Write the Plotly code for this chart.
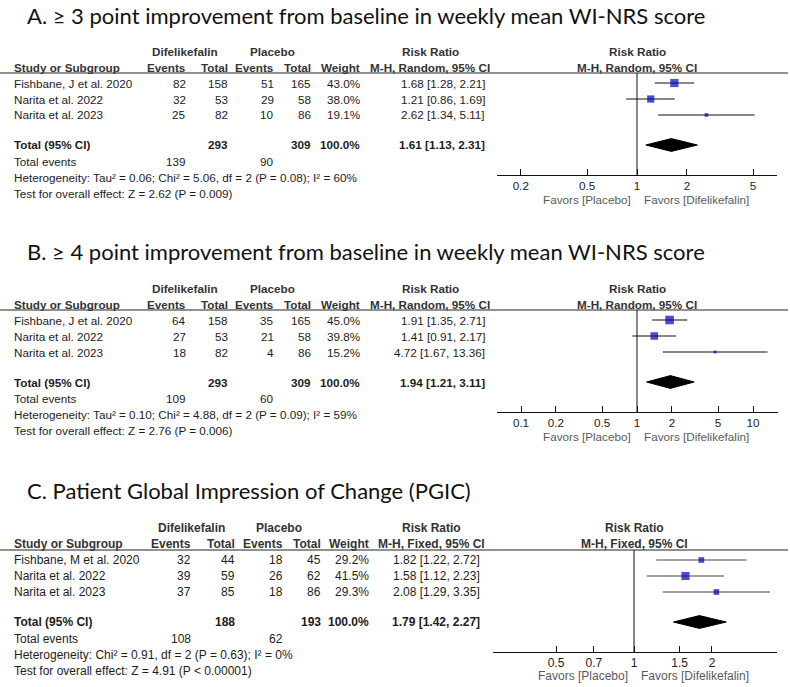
import math
import plotly.graph_objects as go

W, H = 790, 687

# ---------------- DATA ----------------
A_studies = ["Fishbane, J et al. 2020", "Narita et al. 2022", "Narita et al. 2023"]
A_dif_events = [82, 32, 25]
A_dif_total = [158, 53, 82]
A_pla_events = [51, 29, 10]
A_pla_total = [165, 58, 86]
A_weight = [43.0, 38.0, 19.1]
A_rr = [1.68, 1.21, 2.62]
A_lo = [1.28, 0.86, 1.34]
A_hi = [2.21, 1.69, 5.11]
A_tot = [1.61, 1.13, 2.31]
A_tot_n = [293, 309]
A_tot_events = [139, 90]
A_tot_weight = 100.0
A_het = "Heterogeneity: Tau² = 0.06; Chi² = 5.06, df = 2 (P = 0.08); I² = 60%"
A_test = "Test for overall effect: Z = 2.62 (P = 0.009)"
A_ticks = [0.2, 0.5, 1, 2, 5]
A_ticklabels = ["0.2", "0.5", "1", "2", "5"]

B_studies = ["Fishbane, J et al. 2020", "Narita et al. 2022", "Narita et al. 2023"]
B_dif_events = [64, 27, 18]
B_dif_total = [158, 53, 82]
B_pla_events = [35, 21, 4]
B_pla_total = [165, 58, 86]
B_weight = [45.0, 39.8, 15.2]
B_rr = [1.91, 1.41, 4.72]
B_lo = [1.35, 0.91, 1.67]
B_hi = [2.71, 2.17, 13.36]
B_tot = [1.94, 1.21, 3.11]
B_tot_n = [293, 309]
B_tot_events = [109, 60]
B_tot_weight = 100.0
B_het = "Heterogeneity: Tau² = 0.10; Chi² = 4.88, df = 2 (P = 0.09); I² = 59%"
B_test = "Test for overall effect: Z = 2.76 (P = 0.006)"
B_ticks = [0.1, 0.2, 0.5, 1, 2, 5, 10]
B_ticklabels = ["0.1", "0.2", "0.5", "1", "2", "5", "10"]

C_studies = ["Fishbane, M et al. 2020", "Narita et al. 2022", "Narita et al. 2023"]
C_dif_events = [32, 39, 37]
C_dif_total = [44, 59, 85]
C_pla_events = [18, 26, 18]
C_pla_total = [45, 62, 86]
C_weight = [29.2, 41.5, 29.3]
C_rr = [1.82, 1.58, 2.08]
C_lo = [1.22, 1.12, 1.29]
C_hi = [2.72, 2.23, 3.35]
C_tot = [1.79, 1.42, 2.27]
C_tot_n = [188, 193]
C_tot_events = [108, 62]
C_tot_weight = 100.0
C_het = "Heterogeneity: Chi² = 0.91, df = 2 (P = 0.63); I² = 0%"
C_test = "Test for overall effect: Z = 4.91 (P < 0.00001)"
C_ticks = [0.5, 0.7, 1, 1.5, 2]
C_ticklabels = ["0.5", "0.7", "1", "1.5", "2"]

TITLES = [
    "A. ≥ 3 point improvement from baseline in weekly mean WI-NRS score",
    "B. ≥ 4 point improvement from baseline in weekly mean WI-NRS score",
    "C. Patient Global Impression of Change (PGIC)",
]
METHODS = ["M-H, Random, 95% CI", "M-H, Random, 95% CI", "M-H, Fixed, 95% CI"]
GROUP1, GROUP2 = "Difelikefalin", "Placebo"
FAVORS = ["Favors [Placebo]", "Favors [Difelikefalin]"]

# ---------------- LAYOUT (pixels) ----------------
STUDY_ROWS = [1, 2, 3]
TOTAL_ROW = 4.875
TOP_ROW = 0.375   # header rule
AXIS_ROW = 6.75   # x axis line
ROW_PX = 16

panels = [
    dict(d=(A_studies, A_dif_events, A_dif_total, A_pla_events, A_pla_total, A_weight,
            A_rr, A_lo, A_hi, A_tot, A_tot_n, A_tot_events, A_tot_weight, A_het, A_test,
            A_ticks, A_ticklabels),
         title_y=15, r0=67, cols=(188, 230, 276, 313, 362, 487), rrh=430, g1c=185, g2c=272,
         fx=(497, 777), one=637, dec=166, fs=11.7, ci="#111"),
    dict(d=(B_studies, B_dif_events, B_dif_total, B_pla_events, B_pla_total, B_weight,
            B_rr, B_lo, B_hi, B_tot, B_tot_n, B_tot_events, B_tot_weight, B_het, B_test,
            B_ticks, B_ticklabels),
         title_y=252, r0=304, cols=(188, 230, 276, 313, 362, 487), rrh=430, g1c=185, g2c=272,
         fx=(497, 778), one=637, dec=116, fs=11.7, ci="#111"),
    dict(d=(C_studies, C_dif_events, C_dif_total, C_pla_events, C_pla_total, C_weight,
            C_rr, C_lo, C_hi, C_tot, C_tot_n, C_tot_events, C_tot_weight, C_het, C_test,
            C_ticks, C_ticklabels),
         title_y=490, r0=544, cols=(193, 237, 285, 323, 371, 482), rrh=431, g1c=191, g2c=279,
         fx=(493, 777), one=634, dec=259, fs=12.0, ci="#444"),
]

TXT = "#1c1c1c"
HDR = "#333333"
FONT = "Liberation Sans, Arial, sans-serif"


def px(x):
    return x / W


def py(y):
    return 1 - y / H


fig = go.Figure()
annotations = []
shapes = []


def text(x, y, s, anchor="left", bold=False, size=11.7, color=TXT, xref="paper"):
    annotations.append(dict(
        x=x if xref != "paper" else px(x), y=py(y), xref=xref, yref="paper",
        text=f"<b>{s}</b>" if bold else s, showarrow=False,
        xanchor=anchor, yanchor="middle",
        font=dict(family=FONT, size=size, color=color)))


for i, p in enumerate(panels):
    (studies, de, dt, pe, pt, wt, rr, lo, hi, tot, tot_n, tot_ev, tot_w, het, test,
     ticks, ticklabels) = p["d"]
    r0 = p["r0"]
    fs = p["fs"]
    rowpx = lambda r: r0 + r * ROW_PX
    c_ev1, c_t1, c_ev2, c_t2, c_w, c_rr = p["cols"]
    xa = "x" if i == 0 else f"x{i+1}"
    ya = "y" if i == 0 else f"y{i+1}"

    # title
    annotations.append(dict(x=px(25), y=py(p["title_y"]), xref="paper", yref="paper",
                            text=TITLES[i], showarrow=False, xanchor="left", yanchor="middle",
                            font=dict(family="Lato, sans-serif", size=22, color="#111")))

    # headers
    h1, h2 = rowpx(TOP_ROW) - 22, rowpx(TOP_ROW) - 6
    text(p["g1c"], h1, GROUP1, "center", True, fs, HDR)
    text(p["g2c"], h1, GROUP2, "center", True, fs, HDR)
    text(p["rrh"], h1, "Risk Ratio", "center", True, fs, HDR)
    text(12, h2, "Study or Subgroup", "left", True, fs, HDR)
    text(c_ev1, h2, "Events", "right", True, fs, HDR)
    text(c_t1, h2, "Total", "right", True, fs, HDR)
    text(c_ev2, h2, "Events", "right", True, fs, HDR)
    text(c_t2, h2, "Total", "right", True, fs, HDR)
    text(c_w, h2, "Weight", "right", True, fs, HDR)
    text(p["rrh"], h2, METHODS[i], "center", True, fs, HDR)
    text(0, h1, "Risk Ratio", "center", True, fs, HDR, xref=xa)
    text(0, h2, METHODS[i], "center", True, fs, HDR, xref=xa)

    shapes.append(dict(type="line", xref="paper", yref="paper", x0=px(0), x1=px(788),
                       y0=py(rowpx(TOP_ROW)), y1=py(rowpx(TOP_ROW)),
                       line=dict(color="#222", width=1)))

    # study rows
    for r, s, a, b, c, d, w, e, l, h in zip(STUDY_ROWS, studies, de, dt, pe, pt, wt, rr, lo, hi):
        y = rowpx(r)
        text(12, y, s, "left", False, fs)
        text(c_ev1, y, str(a), "right", False, fs)
        text(c_t1, y, str(b), "right", False, fs)
        text(c_ev2, y, str(c), "right", False, fs)
        text(c_t2, y, str(d), "right", False, fs)
        text(c_w, y, f"{w:.1f}%", "right", False, fs)
        text(c_rr, y, f"{e:.2f} [{l:.2f}, {h:.2f}]", "right", False, fs)

    # total rows
    yt = rowpx(TOTAL_ROW)
    text(12, yt, "Total (95% CI)", "left", True, fs)
    text(c_t1, yt, str(tot_n[0]), "right", True, fs)
    text(c_t2, yt, str(tot_n[1]), "right", True, fs)
    text(c_w, yt, f"{tot_w:.1f}%", "right", True, fs)
    text(c_rr, yt, f"{tot[0]:.2f} [{tot[1]:.2f}, {tot[2]:.2f}]", "right", True, fs)
    ye = yt + 16.5
    text(12, ye, "Total events", "left", False, fs)
    text(c_ev1, ye, str(tot_ev[0]), "right", False, fs)
    text(c_ev2, ye, str(tot_ev[1]), "right", False, fs)
    text(12, ye + 16, het, "left", False, fs)
    text(12, ye + 32, test, "left", False, fs)

    # favors labels
    yf = rowpx(AXIS_ROW) + 24
    text(0, yf, FAVORS[0], "right", False, fs, "#5a5a5a", xref=xa)
    annotations[-1]["xshift"] = -4
    text(0, yf, FAVORS[1], "left", False, fs, "#5a5a5a", xref=xa)
    annotations[-1]["xshift"] = 5

    # forest: reference line at RR = 1
    fig.add_trace(go.Scatter(x=[1, 1], y=[TOP_ROW, AXIS_ROW], mode="lines",
                             line=dict(color="#111", width=1), xaxis=xa, yaxis=ya,
                             hoverinfo="skip", showlegend=False, cliponaxis=False))
    # CI lines
    cx, cy = [], []
    for r, l, h in zip(STUDY_ROWS, lo, hi):
        cx += [l, h, None]
        cy += [r, r, None]
    fig.add_trace(go.Scatter(x=cx, y=cy, mode="lines", line=dict(color=p["ci"], width=1.2),
                             xaxis=xa, yaxis=ya, showlegend=False, cliponaxis=False))
    # squares
    fig.add_trace(go.Scatter(x=rr, y=STUDY_ROWS, mode="markers",
                             marker=dict(symbol="square", color="#0000c0",
                                         size=[0.19 * w * (fs / 11.7) for w in wt],
                                         line=dict(width=0)),
                             xaxis=xa, yaxis=ya, showlegend=False, cliponaxis=False))
    # diamond
    hh = 0.4
    fig.add_trace(go.Scatter(x=[tot[1], tot[0], tot[2], tot[0], tot[1]],
                             y=[TOTAL_ROW, TOTAL_ROW - hh, TOTAL_ROW, TOTAL_ROW + hh, TOTAL_ROW],
                             mode="lines", fill="toself", fillcolor="black",
                             line=dict(color="black", width=1),
                             xaxis=xa, yaxis=ya, showlegend=False, cliponaxis=False))

    # axes
    x0p, x1p = p["fx"]
    one, dec = p["one"], p["dec"]
    xr = [(x0p - one) / dec, (x1p - one) / dec]
    fig.layout[xa.replace("x", "xaxis")] = dict(
        type="log", range=xr, domain=[px(x0p), px(x1p)], anchor=ya,
        showline=True, linecolor="#111", linewidth=1, mirror=False,
        ticks="inside", ticklen=6, tickwidth=1, tickcolor="#111",
        tickvals=ticks, ticktext=ticklabels, showgrid=False, zeroline=False,
        tickfont=dict(family=FONT, size=fs, color=TXT), fixedrange=True)
    fig.layout[ya.replace("y", "yaxis")] = dict(
        range=[AXIS_ROW, TOP_ROW], domain=[py(rowpx(AXIS_ROW)), py(rowpx(TOP_ROW))],
        anchor=xa, visible=False, fixedrange=True)

fig.update_layout(width=W, height=H, margin=dict(l=0, r=0, t=0, b=0),
                  paper_bgcolor="white", plot_bgcolor="white", showlegend=False,
                  annotations=annotations, shapes=shapes)

fig.write_html("out.html", config={"displayModeBar": False},
               post_script="document.body.style.margin='0px';document.body.style.overflow='hidden';")
